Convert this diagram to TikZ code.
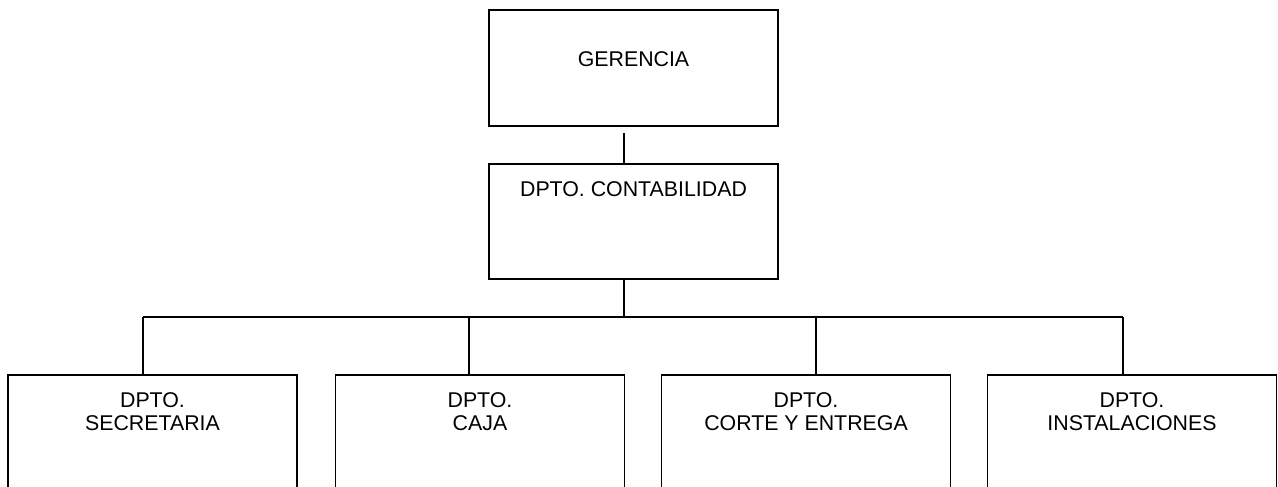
\documentclass[tikz,border=0pt]{standalone}
\usepackage{fontspec}
\setmainfont{Liberation Sans}
\usetikzlibrary{positioning}

\tikzset{
  box/.style = {draw, line width = 1.3pt, inner sep = 0pt,
                minimum width = 216.75pt},
  lbl/.style = {inner sep = 0pt, align = center,
                font = \fontsize{16}{17.3}\selectfont}
}

\begin{document}
\begin{tikzpicture}[x = 0.75pt, y = -0.75pt, line width = 1.3pt]
\clip (0, 0) rectangle (1278, 486);

% cajas superiores
\node[box, minimum height = 87pt] (ger) at (633.5, 68) {};
\node[box, minimum height = 86.25pt] (con) at (633.5, 221.5) {};
\node[lbl, anchor = base] (gert) at (633.5, 66) {GERENCIA};
\node[lbl, anchor = base] (cont) at (633.5, 196) {DPTO. CONTABILIDAD};

% cajas inferiores
\node[box, minimum height = 108.75pt] (sec) at (152.5, 447.5) {};
\node[box, minimum height = 108.75pt] (caj) at (480, 447.5) {};
\node[box, minimum height = 108.75pt] (cor) at (806, 447.5) {};
\node[box, minimum height = 108.75pt] (ins) at (1132, 447.5) {};
\node[lbl, anchor = north] (sect) at (152.5, 392) {DPTO.\\SECRETARIA};
\node[lbl, anchor = north] (cajt) at (480, 392) {DPTO.\\CAJA};
\node[lbl, anchor = north] (cort) at (806, 392) {DPTO.\\CORTE Y ENTREGA};
\node[lbl, anchor = north] (inst) at (1132, 392) {DPTO.\\INSTALACIONES};

% conectores
\coordinate (g1) at (624, 133);
\coordinate (bus) at (624, 317);
\coordinate (b1) at (143, 317);
\coordinate (b2) at (469, 317);
\coordinate (b3) at (816, 317);
\coordinate (b4) at (1123, 317);
\draw (g1) -- (g1 |- con.north);
\draw (bus |- con.south) -- (bus);
\draw (b1) -- (b4);
\draw (b1) -- (b1 |- sec.north);
\draw (b2) -- (b2 |- caj.north);
\draw (b3) -- (b3 |- cor.north);
\draw (b4) -- (b4 |- ins.north);
\end{tikzpicture}
\end{document}
